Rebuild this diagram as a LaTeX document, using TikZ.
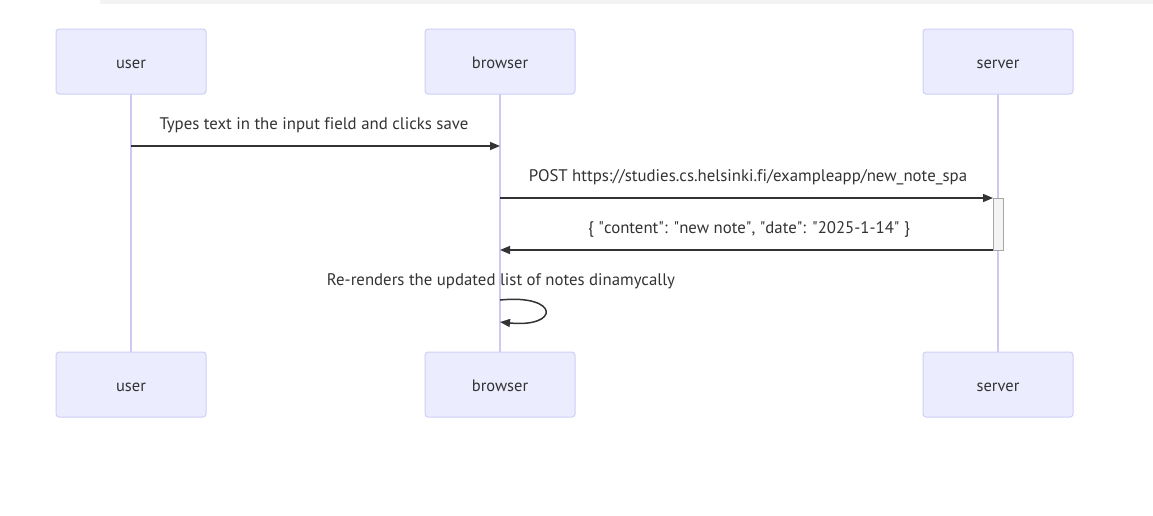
\documentclass[tikz,border=0pt]{standalone}
\usepackage{fontspec}
\setmainfont[Ligatures={NoCommon}]{PT Sans}
\usetikzlibrary{arrows.meta}
\definecolor{actfill}{HTML}{ECECFF}
\definecolor{actborder}{HTML}{CFCFF5}
\definecolor{lifeline}{HTML}{CFC8F2}
\definecolor{txt}{HTML}{333333}
\definecolor{msg}{HTML}{333333}
\definecolor{topbar}{HTML}{F3F3F3}
\definecolor{activ}{HTML}{F4F4F4}
\newcommand{\dq}{\textquotedbl}
\tikzset{
  actor/.style={draw=actborder, fill=actfill, line width=1pt, rounded corners=3pt,
    minimum width=150pt, minimum height=65pt, inner sep=0pt, text height=13pt, text depth=0pt,
    text=txt, font=\fontsize{16.5}{19}\selectfont},
  life/.style={draw=lifeline, line width=1.5pt},
  msgline/.style={draw=msg, line width=1.5pt, -{Triangle[length=10pt,width=8pt]}},
  msglabel/.style={text=txt, font=\fontsize{16.8}{20}\selectfont, inner sep=0pt},
  activation/.style={draw=gray!70, fill=activ, line width=1pt, minimum width=10pt, minimum height=52pt, inner sep=0pt}
}
\begin{document}
\begin{tikzpicture}[x=1pt,y=-1pt]
\useasboundingbox (0,0) rectangle (1153,515);
\fill[topbar] (100,0) rectangle (1153,4);
% lifelines
\coordinate (ut) at (131,94); \coordinate (ub) at (131,352);
\coordinate (bt) at (500,94); \coordinate (bb) at (500,352);
\coordinate (st) at (998,94); \coordinate (sb) at (998,352);
\draw[life] (ut) -- (ub);
\draw[life] (bt) -- (bb);
\draw[life] (st) -- (sb);
% actors
\node[actor] (user1) at (131,61.5) {user};
\node[actor] (browser1) at (500,61.5) {browser};
\node[actor] (server1) at (998,61.5) {server};
\node[actor] (user2) at (131,384.5) {user};
\node[actor] (browser2) at (500,384.5) {browser};
\node[actor] (server2) at (998,384.5) {server};
% activation
\node[activation] (act) at (998,224) {};
% messages
\coordinate (m1a) at (131,146); \coordinate (m1b) at (500,146);
\draw[msgline] (m1a) -- (m1b);
\node[msglabel] (l1) at (314,125.5) {Types text in the input field and clicks save};
\coordinate (m2a) at (500,198); \coordinate (m2b) at (993,198);
\draw[msgline] (m2a) -- (m2b);
\node[msglabel] (l2) at (748,177.5) {POST https://studies.cs.helsinki.fi/exampleapp/new\_note\_spa};
\coordinate (m3a) at (993,250); \coordinate (m3b) at (500,250);
\draw[msgline] (m3a) -- (m3b);
\node[msglabel] (l3) at (749,229.5) {\{ \dq content\dq : \dq new note\dq , \dq date\dq : \dq 2025-1-14\dq\ \}};
\coordinate (m4a) at (500,300); \coordinate (m4b) at (500,322);
\draw[msgline] (m4a) .. controls (560,294) and (560,328) .. (m4b);
\node[msglabel] (l4) at (501,281.5) {Re-renders the updated list of notes dinamycally};
\end{tikzpicture}
\end{document}
